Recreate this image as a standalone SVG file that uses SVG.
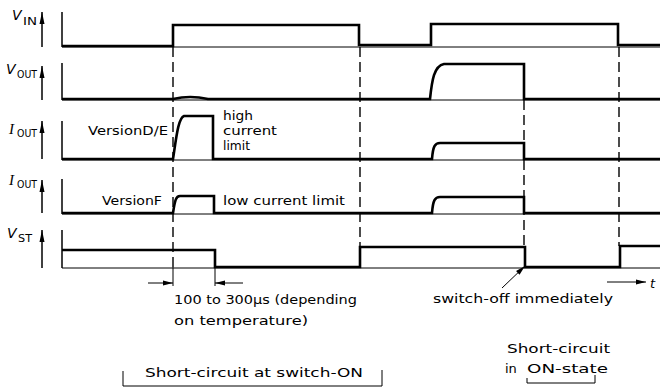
<svg xmlns="http://www.w3.org/2000/svg" width="663" height="387" viewBox="0 0 663 387">
<style>
.thin{stroke:#000;stroke-width:1;fill:none}
.sig{stroke:#000;stroke-width:2.6;fill:none;stroke-linejoin:miter}
.axis{stroke:#000;stroke-width:1.5;fill:none}
.dash{stroke:#000;stroke-width:1.4;fill:none;stroke-dasharray:10,5}
.ext{stroke:#000;stroke-width:1;fill:none}
text{font-family:"DejaVu Sans","Liberation Sans",sans-serif;fill:#000}
.t{font-size:13px}
.v{font-size:14px;font-style:italic}
.iv{font-size:15px;font-style:italic;font-family:"Liberation Serif",serif}
.sub{font-size:10px}
</style>
<defs>
<marker id="ah" viewBox="0 0 10 6" refX="10" refY="3" markerWidth="10" markerHeight="6" markerUnits="userSpaceOnUse" orient="auto">
<path d="M0,0.5 L10,3 L0,5.5 Z" fill="#000"/>
</marker>
<marker id="ax" viewBox="0 0 12 6" refX="12" refY="3" markerWidth="12" markerHeight="6" markerUnits="userSpaceOnUse" orient="auto">
<path d="M0,0.5 L12,3 L0,5.5 Z" fill="#000"/>
</marker>
</defs>

<g id="trace-vin">
<text class="v" x="12" y="20">V</text><text class="sub" x="23" y="25" textLength="14" lengthAdjust="spacingAndGlyphs">IN</text>
<line class="axis" x1="42" y1="47" x2="42" y2="12" marker-end="url(#ax)"/>
<line class="axis" x1="62" y1="12" x2="62" y2="47"/>
<line class="thin" x1="62" y1="47" x2="660" y2="47"/>
<path class="sig" d="M62,46 H173 V25 H359 V45 H431 V24 H618 V45 H660"/>
</g>

<g id="trace-vout">
<text class="v" x="6" y="74">V</text><text class="sub" x="17" y="78" textLength="20" lengthAdjust="spacingAndGlyphs">OUT</text>
<line class="axis" x1="42" y1="100" x2="42" y2="66" marker-end="url(#ax)"/>
<line class="axis" x1="62" y1="63" x2="62" y2="100"/>
<line class="thin" x1="62" y1="100" x2="660" y2="100"/>
<path class="sig" d="M62,99 H173 Q190,95 208,99 H430 C432,80 434,66 444,64 H524 V99 H660"/>
</g>

<g id="trace-iout-de">
<text class="iv" x="9" y="134">I</text><text class="sub" x="17" y="137" textLength="20" lengthAdjust="spacingAndGlyphs">OUT</text>
<line class="axis" x1="42" y1="159" x2="42" y2="121" marker-end="url(#ax)"/>
<line class="axis" x1="62" y1="121" x2="62" y2="160"/>
<line class="thin" x1="62" y1="160" x2="660" y2="160"/>
<path class="sig" d="M62,159 H173 C176,140 178,118 184,116 H213 V159 H432 C433,146 435,143 440,143 H524 V159 H660"/>
<text class="t" x="88" y="135" textLength="80" lengthAdjust="spacingAndGlyphs">VersionD/E</text>
<text class="t" x="223" y="120" textLength="30" lengthAdjust="spacingAndGlyphs">high</text>
<text class="t" x="223" y="135" textLength="54" lengthAdjust="spacingAndGlyphs">current</text>
<text class="t" x="223" y="150" textLength="27" lengthAdjust="spacingAndGlyphs">limit</text>
</g>

<g id="trace-iout-f">
<text class="iv" x="9" y="185">I</text><text class="sub" x="17" y="188" textLength="20" lengthAdjust="spacingAndGlyphs">OUT</text>
<line class="axis" x1="42" y1="213" x2="42" y2="180" marker-end="url(#ax)"/>
<line class="axis" x1="62" y1="179" x2="62" y2="214"/>
<line class="thin" x1="62" y1="214" x2="660" y2="214"/>
<path class="sig" d="M62,213 H173 C175,200 176,196 180,196 H214 V213 H432 C433,200 435,197 440,197 H524 V213 H660"/>
<text class="t" x="102" y="205" textLength="60" lengthAdjust="spacingAndGlyphs">VersionF</text>
<text class="t" x="223" y="205" textLength="122" lengthAdjust="spacingAndGlyphs">low  current limit</text>
</g>

<g id="trace-vst">
<text class="v" x="7" y="238">V</text><text class="sub" x="18" y="242" textLength="14" lengthAdjust="spacingAndGlyphs">ST</text>
<line class="axis" x1="42" y1="268" x2="42" y2="230" marker-end="url(#ax)"/>
<line class="axis" x1="62" y1="230" x2="62" y2="268"/>
<line class="thin" x1="62" y1="268" x2="660" y2="268"/>
<path class="sig" d="M62,250 H215 V267 H360 V247 H525 V267 H620 V246 H660"/>
</g>

<g id="connectors">
<line class="dash" x1="173" y1="47" x2="173" y2="267"/>
<line class="dash" x1="360" y1="47" x2="360" y2="247"/>
<line class="dash" x1="524" y1="100" x2="524" y2="247"/>
<line class="dash" x1="619" y1="47" x2="619" y2="246"/>
<line class="ext" x1="173" y1="267" x2="173" y2="286"/>
<line class="ext" x1="215" y1="267" x2="215" y2="286"/>
<line class="ext" x1="148" y1="283" x2="173" y2="283" marker-end="url(#ah)"/>
<line class="ext" x1="243" y1="283" x2="215" y2="283" marker-end="url(#ah)"/>
<line class="ext" x1="502" y1="288" x2="525" y2="266" marker-end="url(#ah)"/>
<line class="ext" x1="607" y1="282" x2="646" y2="282" marker-end="url(#ah)"/>
<path class="ext" d="M123,371 V386 H382 V370"/>
<path class="ext" d="M527,378 V383 H595 V375"/>
</g>

<g id="annotations">
<text class="t" x="174" y="304" textLength="183" lengthAdjust="spacingAndGlyphs">100 to 300µs (depending</text>
<text class="t" x="174" y="325" textLength="134" lengthAdjust="spacingAndGlyphs">on temperature)</text>
<text class="t" x="433" y="303" textLength="180" lengthAdjust="spacingAndGlyphs">switch-off immediately</text>
<text class="t" x="650" y="288" style="font-style:italic">t</text>
<text class="t" x="145" y="377" textLength="218" lengthAdjust="spacingAndGlyphs">Short-circuit at switch-ON</text>
<text class="t" x="507" y="353" textLength="103" lengthAdjust="spacingAndGlyphs">Short-circuit</text>
<text class="t" x="505" y="373">in</text>
<text class="t" x="527" y="373" textLength="81" lengthAdjust="spacingAndGlyphs">ON-state</text>
</g>
</svg>
